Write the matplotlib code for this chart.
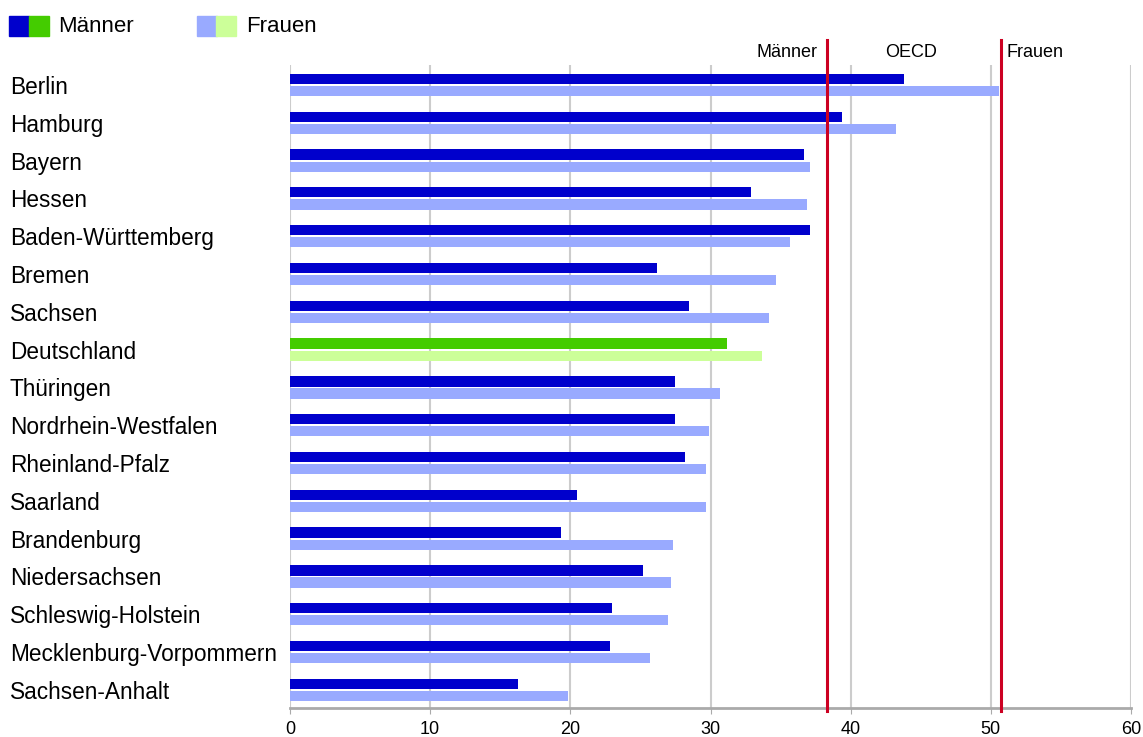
import matplotlib.pyplot as plt
from matplotlib.patches import Rectangle
from matplotlib.transforms import blended_transform_factory
import numpy as np

plt.rcParams['font.family'] = ['Liberation Sans', 'DejaVu Sans']

# Daten
laender = ['Berlin', 'Hamburg', 'Bayern', 'Hessen', 'Baden-Württemberg', 'Bremen',
           'Sachsen', 'Deutschland', 'Thüringen', 'Nordrhein-Westfalen',
           'Rheinland-Pfalz', 'Saarland', 'Brandenburg', 'Niedersachsen',
           'Schleswig-Holstein', 'Mecklenburg-Vorpommern', 'Sachsen-Anhalt']
maenner = [43.8, 39.4, 36.7, 32.9, 37.1, 26.2, 28.5, 31.2, 27.5, 27.5,
           28.2, 20.5, 19.3, 25.2, 23.0, 22.8, 16.3]
frauen = [50.6, 43.2, 37.1, 36.9, 35.7, 34.7, 34.2, 33.7, 30.7, 29.9,
          29.7, 29.7, 27.3, 27.2, 27.0, 25.7, 19.8]
oecd_maenner = 38.3
oecd_frauen = 50.7
xticks = [0, 10, 20, 30, 40, 50, 60]

blau, hellblau = '#0000CC', '#99AAFF'
gruen, hellgruen = '#44CC00', '#CCFF99'
rot = '#CC0022'

fig = plt.figure(figsize=(11.43, 7.37), dpi=100)
ax = fig.add_axes([290 / 1143, 29 / 737, 841 / 1143, 643 / 737])

y = np.arange(len(laender))
c_m = [gruen if l == 'Deutschland' else blau for l in laender]
c_f = [hellgruen if l == 'Deutschland' else hellblau for l in laender]
h = 0.27
ax.barh(y - 0.16, maenner, height=h, color=c_m, zorder=3)
ax.barh(y + 0.16, frauen, height=h, color=c_f, zorder=3)

ax.set_xlim(0, 60)
ax.set_ylim(16.48, -0.53)
ax.set_xticks(xticks)
ax.set_xticklabels([str(t) for t in xticks], fontsize=13)
ax.grid(axis='x', color='#CCCCCC', linewidth=1.5, zorder=0)
ax.tick_params(axis='x', length=4, color='#AAAAAA', pad=5)

# Ländernamen linksbündig am Bildrand
ax.set_yticks(y)
ax.set_yticklabels(laender, fontsize=16.3, ha='left')
ax.tick_params(axis='y', length=0, pad=201.6)

for s in ['top', 'right', 'left']:
    ax.spines[s].set_visible(False)
ax.spines['bottom'].set_color('#AAAAAA')
ax.spines['bottom'].set_linewidth(2)

# OECD-Linien
for v in [oecd_maenner, oecd_frauen]:
    ax.axvline(v, ymin=-0.005, ymax=1.039, color=rot, linewidth=2.2,
               clip_on=False, zorder=4)
tr = blended_transform_factory(ax.transData, ax.transAxes)
ax.text(oecd_maenner - 0.7, 1.020, 'Männer', transform=tr, ha='right',
        va='center', fontsize=13)
ax.text((oecd_maenner + oecd_frauen) / 2 - 0.2, 1.020, 'OECD', transform=tr,
        ha='center', va='center', fontsize=13)
ax.text(oecd_frauen + 0.4, 1.020, 'Frauen', transform=tr, ha='left',
        va='center', fontsize=13)

# Legende
W, H = 1143, 737
for x0, col in [(9, blau), (29, gruen), (197, hellblau), (216, hellgruen)]:
    fig.patches.append(Rectangle((x0 / W, 1 - 36 / H), 20 / W, 20 / H,
                                 transform=fig.transFigure, color=col))
fig.text(58 / W, 1 - 27 / H, 'Männer', fontsize=16, va='center')
fig.text(246 / W, 1 - 27 / H, 'Frauen', fontsize=16, va='center')

plt.savefig('out.png', dpi=100)
